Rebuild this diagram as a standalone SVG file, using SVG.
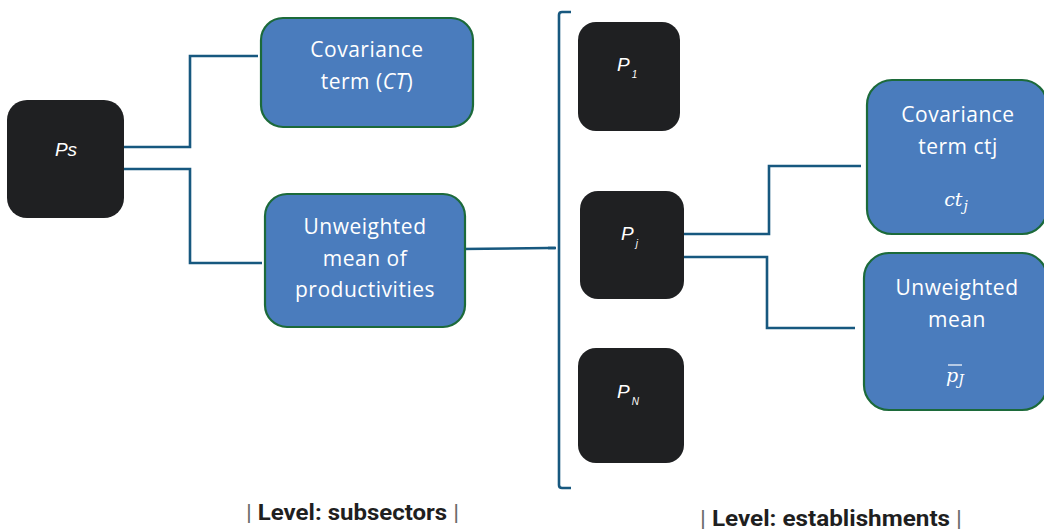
<svg xmlns="http://www.w3.org/2000/svg" width="1044" height="530" viewBox="0 0 1044 530">
<style>
.dark{fill:#1f2022;}
.blue{fill:#4a7cbd;stroke:#1c6a3a;stroke-width:2.2;}
.conn{fill:none;stroke:#17587f;stroke-width:2.6;}
.wt{fill:#ffffff;font-family:"Open Sans","Liberation Sans",sans-serif;font-size:21px;letter-spacing:0.5px;text-anchor:middle;}
.pt{fill:#ffffff;font-family:"Liberation Sans",sans-serif;font-size:19px;font-style:italic;}
.math{fill:#ffffff;font-family:"DejaVu Serif","Liberation Serif",serif;font-style:italic;font-size:19px;text-anchor:middle;}
.lvl{font-family:"Roboto","Liberation Sans",sans-serif;font-size:22px;font-weight:bold;fill:#1f1f1f;}
.pipe{fill:#6a6a6a;font-weight:normal;}
</style>
<g id="connectors">
<polyline class="conn" points="124,147 190,147 190,56 258,56"/>
<polyline class="conn" points="120,169 190,169 190,263 262,263"/>
<polyline class="conn" points="461,249 548,248 555,248"/>
<path class="conn" d="M571,12 L562,12 Q559,12 559,15 L559,485 Q559,488 562,488 L571,488"/>
<path class="conn" d="M548,248 L556,248"/>
<polyline class="conn" points="678,234 769,234 769,166 861,166"/>
<polyline class="conn" points="678,257 767,257 767,328 855,328"/>
</g>
<g id="node-ps">
<rect class="dark" x="7" y="100" width="117" height="118" rx="20"/>
<text class="pt" x="66" y="156" text-anchor="middle" font-size="20">Ps</text>
</g>
<g id="node-ct">
<rect class="blue" x="261" y="18" width="212" height="109" rx="22"/>
<text class="wt" x="367" y="57">Covariance</text>
<text class="wt" x="367" y="89">term (<tspan font-style="italic">CT</tspan>)</text>
</g>
<g id="node-mean">
<rect class="blue" x="265" y="194" width="200" height="133" rx="22"/>
<text class="wt" x="365" y="234">Unweighted</text>
<text class="wt" x="365" y="266">mean of</text>
<text class="wt" x="365" y="297">productivities</text>
</g>
<g id="node-p1">
<rect class="dark" x="578" y="22" width="102" height="109" rx="18"/>
<text class="pt" x="617" y="71">P<tspan font-size="10" dx="2" dy="7">1</tspan></text>
</g>
<g id="node-pj">
<rect class="dark" x="580" y="191" width="104" height="108" rx="18"/>
<text class="pt" x="621" y="240">P<tspan font-size="10" dx="2" dy="7">j</tspan></text>
</g>
<g id="node-pn">
<rect class="dark" x="578" y="348" width="106" height="115" rx="18"/>
<text class="pt" x="617" y="398">P<tspan font-size="10" dx="2" dy="7">N</tspan></text>
</g>
<g id="node-ctj">
<rect class="blue" x="867" y="80" width="180" height="154" rx="25"/>
<text class="wt" x="958" y="122">Covariance</text>
<text class="wt" x="958" y="154">term ctj</text>
<text class="math" x="956" y="206">ct<tspan font-size="14" dx="1" dy="5">j</tspan></text>
</g>
<g id="node-pbar">
<rect class="blue" x="864" y="253" width="183" height="157" rx="25"/>
<text class="wt" x="957" y="295">Unweighted</text>
<text class="wt" x="957" y="327">mean</text>
<text class="math" x="955" y="382">p<tspan font-size="14" dy="3">J</tspan></text>
<line x1="948" y1="365" x2="962" y2="365" stroke="#ffffff" stroke-width="1.2"/>
</g>
<g id="labels">
<text class="lvl" x="246" y="520" textLength="213" lengthAdjust="spacingAndGlyphs"><tspan class="pipe">| </tspan>Level: subsectors<tspan class="pipe"> |</tspan></text>
<text class="lvl" x="700" y="526" textLength="262" lengthAdjust="spacingAndGlyphs"><tspan class="pipe">| </tspan>Level: establishments<tspan class="pipe"> |</tspan></text>
</g>
</svg>
